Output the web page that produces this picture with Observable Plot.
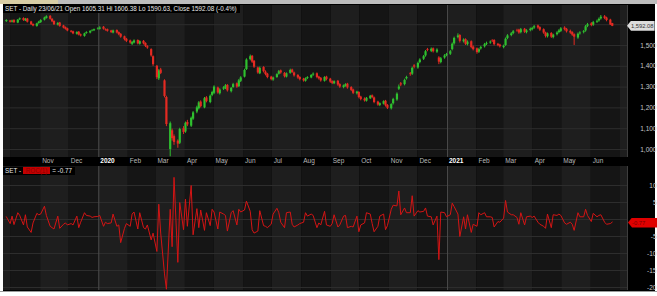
<!DOCTYPE html>
<html>
<head>
<meta charset="utf-8">
<script src="https://cdn.jsdelivr.net/npm/d3@7"></script>
<script src="https://cdn.jsdelivr.net/npm/@observablehq/plot@0.6"></script>
<style>
html,body{margin:0;padding:0;}
body{width:657px;height:296px;overflow:hidden;position:relative;background:#fff;font-family:"Liberation Sans",Arial,sans-serif;}
#topstrip{position:absolute;left:0;top:0;width:657px;height:4px;background:#bdbdbd;}
#topstrip .tab{position:absolute;left:0;top:0;width:58px;height:4px;background:#d8cea6;}
#bg{position:absolute;left:3px;top:4px;width:652px;height:287px;background:#000;}
#bottomline{position:absolute;left:0;top:291px;width:657px;height:1px;background:#9a9a9a;}
.plot{position:absolute;left:0;}
#title{position:absolute;left:3px;top:5px;height:8px;line-height:8px;padding:0 3px 0 2px;background:#000;color:#e6e6e6;font-size:6.3px;white-space:nowrap;}
#legend{position:absolute;left:3px;top:167px;height:8px;line-height:8px;padding:0 3px 0 2px;background:#000;color:#e6e6e6;font-size:6.3px;white-space:nowrap;}
#legend .box{display:inline-block;background:#c40000;color:#8a0000;padding:0 3px;height:7px;line-height:7px;}
.tag{position:absolute;height:10px;line-height:10px;font-size:5.8px;padding-left:4px;padding-right:1px;clip-path:polygon(0 50%,4px 0,100% 0,100% 100%,4px 100%);white-space:nowrap;}
</style>
</head>
<body>
<div id="topstrip"><div class="tab"></div></div>
<div id="bg"></div>
<div id="bottomline"></div>
<div id="pricewrap" class="plot" style="top:5px"></div>
<div id="oscwrap" class="plot" style="top:166px"></div>
<div id="title"></div>
<div id="legend"></div>
<div id="pricetag" class="tag" style="background:#dcdcdc;color:#333;"></div>
<div id="osctag" class="tag" style="background:#e00000;color:#7a0000;"></div>
<script>
// ---------- data (every second trading day, Sep 2019 - 23 Jun 2021) ----------
const opens = [1615,1618,
1612,1620,1608,1624,1630,1618,1627,1613,1601,1592,1606,1610,
1622,1630,1640,1626,1616,1598,1608,1594,1586,1580,
1568,1566,1554,1564,1551,1544,1558,1560,1570,1571,1578,
1578,1588,1576,1576,1570,1560,1572,1562,1554,1542,1530,1522,
1506,1512,1524,1506,1520,1510,1494,1480,1446,1400,
1340,1382,1330,1250,1000,1090,1062,1040,1030,1100,1084,
1130,1112,1146,1180,1196,1228,1200,1248,1226,1260,1270,
1296,1268,1290,1292,1308,1278,1298,1316,1302,1328,
1348,1384,1432,1448,1424,1392,1364,1394,1372,1362,1348,
1334,1346,1362,1378,1366,1348,1366,1382,1368,1356,1346,1338,
1328,1342,1344,1358,1364,1348,1342,1328,1348,1338,
1326,1316,1328,1312,1298,1304,1314,1298,1286,1268,1274,
1252,1242,1232,1244,1258,1248,1228,1212,1218,1232,1212,
1196,1220,1238,1290,1316,1312,1340,1364,1362,1402,1392,
1418,1434,1450,1480,1472,1484,1468,1440,1418,1440,1452,
1458,1480,1508,1538,1548,1518,1528,1504,1518,1492,1484,
1468,1484,1494,1506,1512,1522,1524,1506,1502,1490,
1500,1534,1548,1558,1572,1574,1562,1578,1562,1572,1576,
1584,1594,1586,1576,1560,1542,1558,1538,1552,1562,1568,
1584,1578,1568,1562,1552,1536,1556,1562,1570,1592,1604,
1598,1612,1618,1628,1638,1632,1622,1605.31];

const highs = [1624,1621,
1622,1624,1625,1632,1633,1630,1630,1616,1604,1607,1616,1624,
1636,1643,1644,1629,1618,1610,1611,1597,1589,1583,
1572,1569,1566,1567,1555,1559,1566,1571,1576,1579,1585,
1590,1591,1580,1579,1573,1574,1575,1565,1557,1545,1534,1526,
1519,1527,1527,1522,1524,1513,1499,1484,1450,1404,
1384,1390,1335,1256,1132,1098,1070,1046,1102,1110,1132,
1140,1156,1182,1208,1230,1234,1250,1254,1262,1280,1306,
1300,1292,1302,1312,1312,1298,1318,1320,1336,1350,
1386,1436,1454,1452,1428,1396,1396,1398,1378,1366,1352,
1348,1364,1380,1382,1370,1368,1386,1386,1372,1360,1350,1342,
1344,1350,1360,1368,1368,1352,1346,1350,1352,1342,
1330,1330,1332,1316,1310,1316,1318,1302,1290,1280,1278,
1256,1248,1250,1260,1262,1252,1232,1224,1234,1236,1216,
1220,1246,1272,1310,1322,1338,1352,1370,1396,1408,1420,
1436,1452,1476,1486,1488,1488,1484,1446,1442,1456,1462,
1476,1512,1540,1556,1552,1532,1532,1522,1522,1498,1488,
1486,1496,1510,1516,1522,1528,1528,1510,1506,1502,
1536,1552,1562,1572,1578,1578,1582,1582,1576,1584,1588,
1596,1598,1590,1580,1564,1560,1562,1554,1566,1576,1586,
1590,1582,1574,1566,1556,1560,1566,1572,1596,1606,1610,
1616,1622,1632,1644,1644,1636,1626,1606.38];

const lows = [1611,1608,
1608,1606,1605,1620,1616,1615,1608,1596,1590,1588,1602,1606,
1618,1627,1622,1610,1596,1594,1588,1580,1574,1566,
1560,1552,1550,1546,1541,1540,1554,1556,1566,1567,1574,
1574,1574,1569,1564,1558,1556,1556,1547,1535,1522,1514,1506,
1500,1508,1503,1502,1503,1490,1482,1444,1400,1336,
1332,1360,1248,1110,965,1040,1020,1006,1024,1072,1078,
1110,1106,1140,1172,1190,1200,1196,1224,1220,1254,1264,
1266,1262,1284,1288,1276,1272,1294,1294,1298,1322,
1344,1380,1426,1414,1390,1362,1360,1368,1354,1340,1330,
1328,1342,1358,1362,1344,1344,1362,1366,1348,1338,1330,1324,
1324,1336,1340,1352,1340,1334,1324,1324,1330,1318,
1312,1312,1304,1294,1292,1300,1290,1278,1264,1262,1244,
1234,1228,1228,1240,1244,1220,1208,1206,1214,1204,1192,
1190,1214,1232,1284,1302,1306,1334,1352,1356,1388,1386,
1412,1428,1444,1470,1466,1464,1462,1408,1412,1434,1446,
1452,1474,1502,1532,1512,1512,1500,1498,1484,1474,1458,
1462,1478,1488,1500,1506,1514,1498,1494,1488,1484,
1496,1528,1542,1552,1564,1554,1556,1558,1556,1566,1570,
1578,1578,1568,1554,1536,1536,1534,1532,1546,1556,1562,
1570,1560,1554,1544,1500,1530,1550,1556,1564,1586,1590,
1592,1606,1612,1622,1624,1614,1596,1590.63];

const closes = [1620,1612,
1618,1610,1622,1628,1620,1626,1612,1600,1594,1604,1612,1620,
1632,1638,1626,1614,1600,1606,1592,1584,1578,1570,
1564,1556,1562,1550,1546,1556,1562,1568,1572,1576,1580,
1584,1578,1574,1568,1562,1570,1560,1552,1540,1528,1520,1512,
1514,1522,1508,1518,1508,1496,1488,1450,1408,1345,
1378,1366,1255,1120,1124,1052,1034,1026,1096,1082,1126,
1118,1150,1176,1200,1224,1206,1244,1230,1256,1274,1300,
1272,1286,1296,1306,1282,1294,1312,1300,1330,1344,
1380,1430,1446,1420,1396,1368,1390,1374,1360,1346,1336,
1344,1360,1374,1368,1350,1364,1380,1370,1354,1344,1336,1330,
1340,1346,1356,1362,1346,1340,1330,1346,1336,1324,
1318,1326,1310,1300,1306,1312,1296,1284,1270,1276,1250,
1240,1234,1246,1256,1250,1226,1214,1220,1230,1210,1198,
1216,1240,1266,1300,1310,1332,1346,1360,1390,1396,1414,
1430,1446,1470,1476,1482,1470,1478,1420,1436,1450,1456,
1470,1506,1534,1546,1520,1526,1506,1516,1490,1480,1466,
1480,1490,1504,1510,1516,1520,1504,1500,1494,1496,
1530,1546,1556,1566,1570,1560,1576,1564,1570,1578,1582,
1590,1584,1574,1560,1544,1556,1540,1550,1560,1570,1580,
1576,1566,1560,1550,1540,1554,1560,1566,1590,1600,1596,
1610,1616,1626,1636,1630,1620,1598.5,1592.08];

const oscValues = [0.8,-1.2,
1.0,-1.5,2.0,1.2,-1.6,1.4,-2.2,-3.8,-1.0,1.8,1.4,1.6,
3.9,1.2,-2.0,-2.4,-2.8,1.0,-2.6,-1.4,-1.0,-1.6,
-1.2,-1.6,1.0,-2.4,-0.8,2.0,1.2,1.0,0.6,0.8,0.9,
1.2,-2.0,-0.8,-1.2,-1.0,1.6,-2.0,-1.6,-6.8,-2.6,-1.2,-2.0,
1.6,2.2,-2.8,2.0,-2.4,-2.8,-1.6,-6.0,-4.0,-9.4,
4.5,-4.0,-16.0,-20.5,3.0,-8.0,12.4,-12.6,5.0,-3.0,6.0,
-2.0,10.0,-4.5,3.2,-2.4,2.8,-3.2,2.0,-1.8,3.0,2.2,
-2.8,2.2,1.6,1.2,-3.4,2.0,2.6,-1.6,3.0,2.2,
2.8,5.4,2.4,-3.0,-4.0,-3.4,2.6,-1.8,-2.0,-2.4,-1.4,
1.6,3.3,2.0,-0.8,-2.4,2.0,2.2,-1.4,-2.2,-1.6,-1.2,-0.8,
2.0,1.0,1.6,1.2,-2.4,-1.0,-1.6,2.4,-1.6,-2.0,
-1.2,1.4,-2.2,-1.6,1.0,1.2,-2.4,-2.0,-2.2,1.0,-3.6,
-1.6,-1.0,2.0,1.6,-1.2,-3.6,-2.0,1.0,1.6,-3.0,-1.8,
3.0,4.2,4.0,8.4,1.4,3.4,2.0,2.0,7.0,1.0,2.6,
2.2,2.4,3.4,1.0,0.8,-1.6,1.0,-11.8,2.2,2.0,0.8,
1.4,4.8,3.8,1.6,-5.0,0.8,-2.8,1.4,-3.8,-1.4,-2.0,
2.0,1.4,2.0,0.8,0.8,0.6,-2.2,-0.6,-0.8,0.4,
5.6,2.2,1.4,1.4,0.6,-1.4,2.0,-1.6,0.8,1.0,0.6,
1.0,-0.8,-1.4,-2.0,-2.6,1.6,-2.4,1.4,1.2,1.6,1.2,
-1.0,-1.4,-0.8,-1.4,-3.2,2.0,0.8,0.8,3.0,1.2,-0.6,
1.8,0.8,1.2,1.4,-0.8,-1.4,-1.2,-0.77];

const lastDateStr = "2021-06-23";
const priceGrid = [1000,1100,1200,1300,1400,1500,1600];
const priceTickLabels = [1000,1100,1200,1300,1400,1500];
const oscGrid = [10,5,0,-5,-10,-15,-20];
const oscTickLabels = [10,5,-5,-10,-15,-20];
const monthLabelStarts = ["2019-11-01","2019-12-01","2020-01-01","2020-02-01","2020-03-01","2020-04-01","2020-05-01","2020-06-01","2020-07-01","2020-08-01","2020-09-01","2020-10-01","2020-11-01","2020-12-01","2021-01-01","2021-02-01","2021-03-01","2021-04-01","2021-05-01","2021-06-01"];
const monthLabels = ["Nov","Dec","2020","Feb","Mar","Apr","May","Jun","Jul","Aug","Sep","Oct","Nov","Dec","2021","Feb","Mar","Apr","May","Jun"];
const yearStarts = ["2020-01-01","2021-01-01"];
const indicatorName = "ROC(1)";
const changePct = "-0.4%";

// ---------- build ----------
const N = closes.length;
const dates = new Array(N);
{
  let d = new Date(lastDateStr + "T00:00:00Z");
  for (let i = N - 1; i >= 0; i--) {
    dates[i] = d;
    let k = 0;
    while (k < 2) { d = d3.utcDay.offset(d, -1); const w = d.getUTCDay(); if (w !== 0 && w !== 6) k++; }
  }
}
const candles = closes.map((c, i) => ({date: dates[i], open: opens[i], high: highs[i], low: lows[i], close: c, osc: oscValues[i]}));

const xDomain = [new Date("2019-09-23T00:00:00Z"), new Date("2021-07-09T00:00:00Z")];
const bands = d3.utcMonths(new Date("2019-09-01T00:00:00Z"), new Date("2021-08-01T00:00:00Z")).map(m => ({
  x1: m, x2: d3.utcMonth.offset(m, 1), light: (m.getUTCFullYear() * 12 + m.getUTCMonth()) % 2 === 0
}));
const labelData = monthLabelStarts.map((s, i) => ({date: new Date(s + "T00:00:00Z"), label: monthLabels[i], year: /^\d{4}$/.test(monthLabels[i])}));
const yearLines = yearStarts.map(s => new Date(s + "T00:00:00Z"));

const GREEN = "#2fc02f", RED = "#e42a22";
const FONT = "'Liberation Sans', Arial, sans-serif";
const priceDomain = [961.5, 1692.3];
const oscDomain = [-20.88, 15.59];

function bandMarks(yd) {
  return [
    Plot.rect(bands, {x1: "x1", x2: "x2", y1: () => yd[0], y2: () => yd[1], fill: d => d.light ? "#1e1e1e" : "#151515", clip: true}),
  ];
}

const pricePlot = Plot.plot({
  width: 657, height: 161,
  marginLeft: 3, marginRight: 30, marginTop: 0, marginBottom: 9,
  style: {background: "transparent", fontFamily: FONT, overflow: "visible"},
  x: {type: "utc", domain: xDomain, axis: null},
  y: {domain: priceDomain, axis: null},
  color: {type: "identity"},
  marks: [
    ...bandMarks(priceDomain),
    Plot.ruleY(priceGrid, {stroke: "#2d2d2d"}),
    Plot.ruleX(yearLines, {stroke: "#4c4c4c"}),
    Plot.ruleX([xDomain[1]], {stroke: "#3e3e3e"}),
    Plot.ruleX(candles, {filter: d => d.close >= d.open, x: "date", y1: "low", y2: "high", stroke: GREEN, strokeWidth: 1}),
    Plot.ruleX(candles, {filter: d => d.close < d.open, x: "date", y1: "low", y2: "high", stroke: RED, strokeWidth: 1}),
    Plot.ruleX(candles, {filter: d => d.close >= d.open, x: "date", y1: "open", y2: "close", stroke: GREEN, strokeWidth: 2.2}),
    Plot.ruleX(candles, {filter: d => d.close < d.open, x: "date", y1: "open", y2: "close", stroke: RED, strokeWidth: 2.2}),
    Plot.text(priceTickLabels, {y: d => d, text: d => d3.format(",")(d), frameAnchor: "right", dx: 29, textAnchor: "end", fill: "#c6c6c6", fontSize: 6.5}),
    Plot.text(labelData, {filter: d => !d.year, x: "date", text: "label", frameAnchor: "bottom", dy: 5, dx: 1.5, textAnchor: "start", fill: "#b8b8b8", fontSize: 6.5}),
    Plot.text(labelData, {filter: d => d.year, x: "date", text: "label", frameAnchor: "bottom", dy: 5, dx: 1.5, textAnchor: "start", fill: "#ffffff", fontWeight: "bold", fontSize: 6.5})
  ]
});
document.getElementById("pricewrap").appendChild(pricePlot);

const oscPlot = Plot.plot({
  width: 657, height: 125,
  marginLeft: 3, marginRight: 30, marginTop: 0, marginBottom: 1,
  style: {background: "transparent", fontFamily: FONT, overflow: "visible"},
  x: {type: "utc", domain: xDomain, axis: null},
  y: {domain: oscDomain, axis: null},
  marks: [
    ...bandMarks(oscDomain),
    Plot.ruleY(oscGrid, {stroke: "#2d2d2d"}),
    Plot.ruleX(yearLines, {stroke: "#4c4c4c"}),
    Plot.ruleX([xDomain[1]], {stroke: "#3e3e3e"}),
    Plot.line(candles, {x: "date", y: "osc", stroke: "#d41414", strokeWidth: 1}),
    Plot.text(oscTickLabels, {y: d => d, text: d => String(d), frameAnchor: "right", dx: 29, textAnchor: "end", fill: "#c6c6c6", fontSize: 6.5})
  ]
});
document.getElementById("oscwrap").appendChild(oscPlot);

// ---------- text overlays ----------
const last = candles[N - 1];
const f2 = d3.format(".2f");
document.getElementById("title").textContent =
  `SET - Daily ${d3.utcFormat("%d/%m/%y")(last.date)} Open ${f2(last.open)} Hi ${f2(last.high)} Lo ${f2(last.low)}, Close ${f2(last.close)} (${changePct})`;
const lg = document.getElementById("legend");
lg.innerHTML = `SET - <span class="box">${indicatorName}</span> = ${last.osc}`;

const pt = document.getElementById("pricetag");
pt.textContent = d3.format(",.2f")(last.close);
pt.style.left = "627px";
pt.style.top = (5 + pricePlot.scale("y").apply(last.close) - 5) + "px";

const ot = document.getElementById("osctag");
ot.textContent = String(last.osc);
ot.style.left = "628px";
ot.style.width = "24px";
ot.style.top = (166 + oscPlot.scale("y").apply(last.osc) - 4) + "px";
</script>
</body>
</html>
